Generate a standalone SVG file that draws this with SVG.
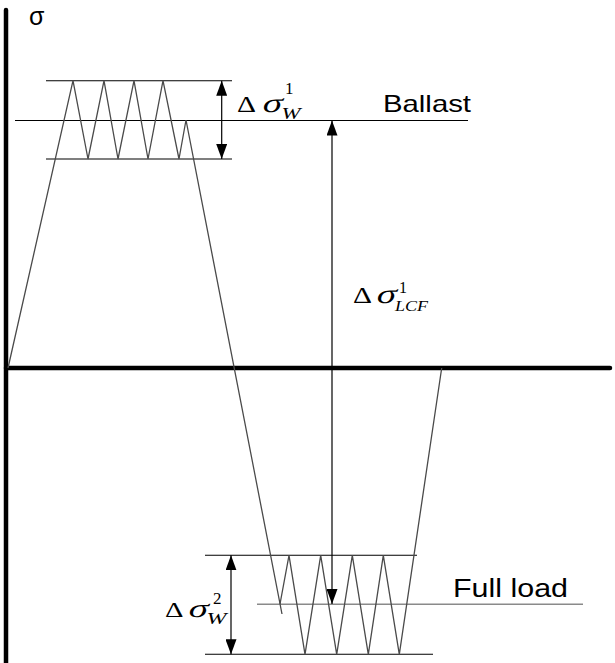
<svg xmlns="http://www.w3.org/2000/svg" width="615" height="663" viewBox="0 0 615 663">
<style>
.axis{stroke:#000;stroke-width:4.5;fill:none;stroke-linecap:round}
.lvl{stroke:#000;stroke-width:1.1;fill:none}
.gray{stroke:#8a8a8a;stroke-width:1.6;fill:none}
.zig{stroke:#4a4a4a;stroke-width:1.3;fill:none;stroke-linejoin:miter}
.dim{stroke:#000;stroke-width:1.2;fill:none;marker-start:url(#ah);marker-end:url(#ah)}
.sans{font-family:"Liberation Sans",Arial,sans-serif;fill:#000}
.serif{font-family:"Liberation Serif","Times New Roman",serif;fill:#000}
.it{font-style:italic}
</style>
<defs>
<marker id="ah" markerUnits="userSpaceOnUse" markerWidth="15" markerHeight="11" refX="15" refY="5.5" orient="auto-start-reverse">
<path d="M0,0 L15,5.5 L0,11 z" fill="#000"/>
</marker>
</defs>
<g id="axes">
<line class="axis" x1="6" y1="10" x2="6" y2="663"/>
<line class="axis" x1="6" y1="368" x2="610" y2="368"/>
<text class="sans" x="29" y="25" font-size="25">σ</text>
</g>
<g id="levels">
<line class="lvl" x1="46" y1="80.7" x2="232" y2="80.7"/>
<line class="lvl" x1="15" y1="120.5" x2="468" y2="120.5"/>
<line class="lvl" x1="46" y1="159" x2="232" y2="159"/>
<line class="lvl" x1="205" y1="555.3" x2="417" y2="555.3"/>
<line class="gray" x1="257" y1="604.3" x2="583" y2="604.3"/>
<line class="lvl" x1="205" y1="654.3" x2="433" y2="654.3"/>
</g>
<g id="stress-history">
<polyline class="zig" points="8,368 73,80.7 88,159 104,80.7 118,159 134,80.7 148,159 163,80.7 179,159 186,120 282,614"/>
<polyline class="zig" points="280,604 289,555.3 305,654.3 320.7,555.3 336.7,654.3 352.3,555.3 368.3,654.3 383.3,555.3 399.3,654.3 441.7,368"/>
</g>
<g id="connectors">
<line class="dim" x1="221.7" y1="80.7" x2="221.7" y2="159"/>
<line class="dim" x1="332" y1="120.5" x2="332" y2="604"/>
<line class="dim" x1="231" y1="555.3" x2="231" y2="654.3"/>
</g>
<g id="label-ballast">
<text class="sans" x="383" y="112.3" font-size="24" textLength="88" lengthAdjust="spacingAndGlyphs">Ballast</text>
</g>
<g id="label-fullload">
<text class="sans" x="453" y="597" font-size="26" textLength="115" lengthAdjust="spacingAndGlyphs">Full load</text>
</g>
<g id="label-dsw1">
<text class="serif" x="237" y="112" font-size="24" textLength="19" lengthAdjust="spacingAndGlyphs">Δ</text>
<text class="serif" transform="translate(261,112) skewX(-16)" x="0" y="0" font-size="27" textLength="20" lengthAdjust="spacingAndGlyphs">σ</text>
<text class="serif" x="285" y="94" font-size="17">1</text>
<text class="serif it" x="281.5" y="118.5" font-size="17" textLength="19" lengthAdjust="spacingAndGlyphs">W</text>
</g>
<g id="label-dslcf">
<text class="serif" x="353" y="303" font-size="24" textLength="19" lengthAdjust="spacingAndGlyphs">Δ</text>
<text class="serif" transform="translate(375,303) skewX(-16)" x="0" y="0" font-size="27" textLength="20" lengthAdjust="spacingAndGlyphs">σ</text>
<text class="serif" x="399" y="293" font-size="16">1</text>
<text class="serif it" x="395" y="311" font-size="15.5" textLength="33" lengthAdjust="spacingAndGlyphs">LCF</text>
</g>
<g id="label-dsw2">
<text class="serif" x="165" y="617" font-size="22" textLength="18.5" lengthAdjust="spacingAndGlyphs">Δ</text>
<text class="serif" transform="translate(187,617) skewX(-16)" x="0" y="0" font-size="26" textLength="20" lengthAdjust="spacingAndGlyphs">σ</text>
<text class="serif" x="213" y="604" font-size="17">2</text>
<text class="serif it" x="206.5" y="624" font-size="17" textLength="20" lengthAdjust="spacingAndGlyphs">W</text>
</g>
</svg>
